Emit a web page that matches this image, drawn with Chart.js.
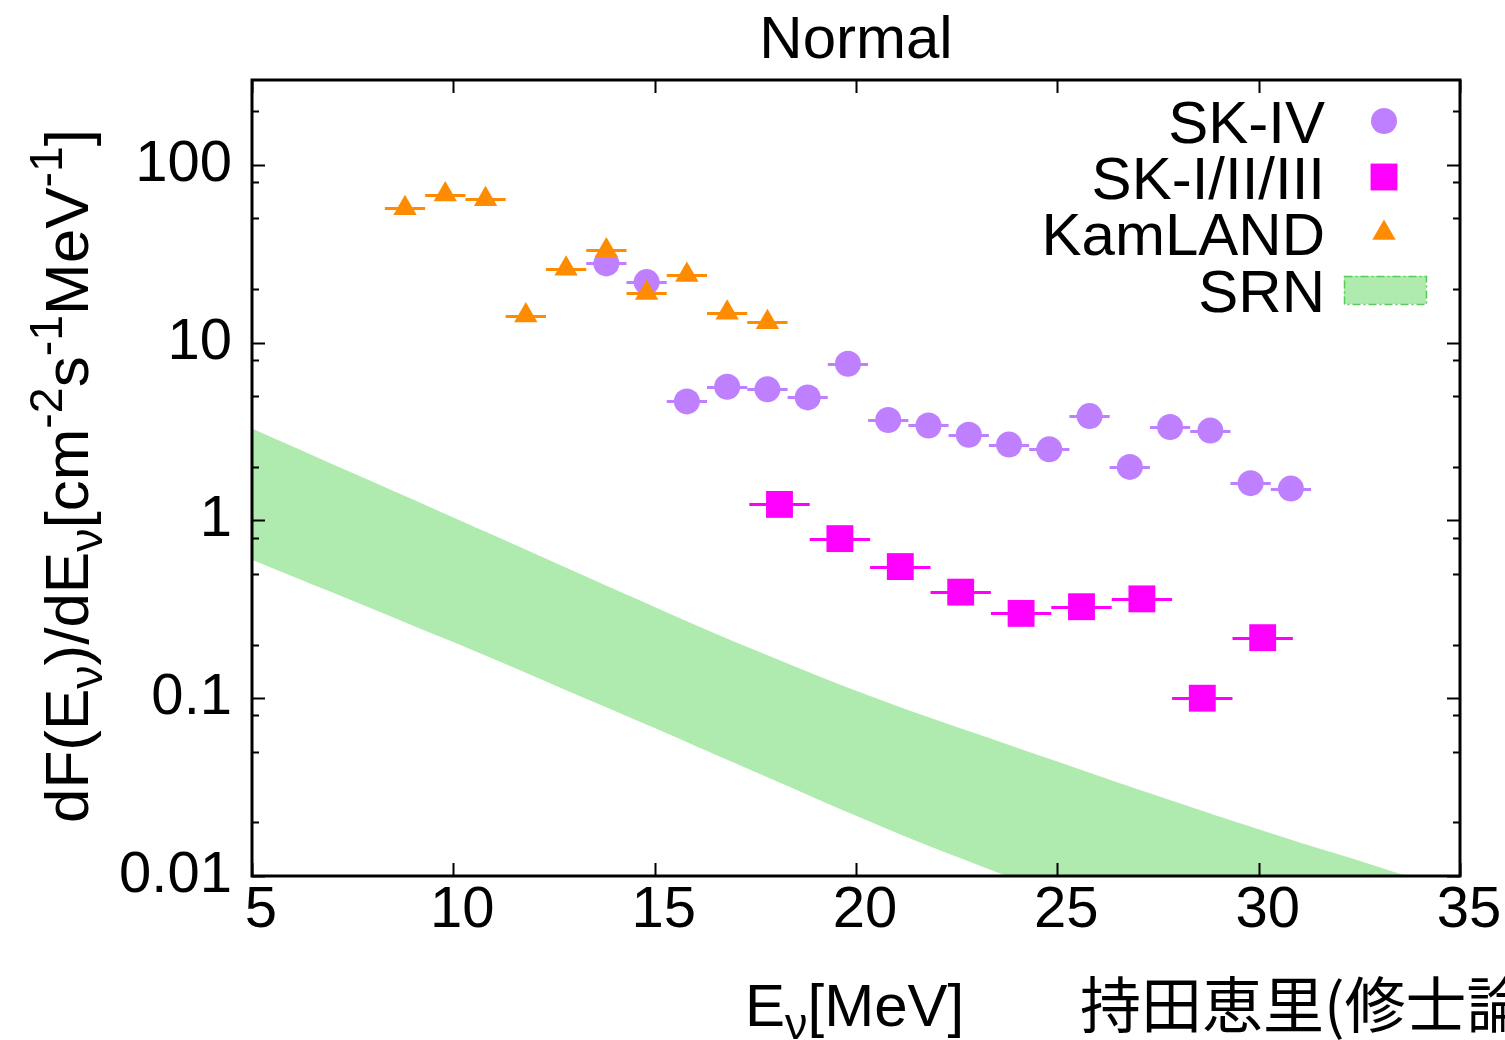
<!DOCTYPE html>
<html>
<head>
<meta charset="utf-8">
<title>Normal</title>
<script src="https://cdn.jsdelivr.net/npm/chart.js@4.4.1/dist/chart.umd.min.js"></script>
<style>
  html, body { margin: 0; padding: 0; background: #fff; overflow: hidden; }
  canvas { display: block; }
</style>
</head>
<body>
<canvas id="myChart" width="1505" height="1040"></canvas>
<script>
// values (E in MeV, flux in cm^-2 s^-1 MeV^-1)
const kamlandE = [8.8, 9.8, 10.8, 11.8, 12.8, 13.8, 14.8, 15.8, 16.8, 17.8];
const kamlandFlux = [57, 68, 64, 14.2, 26, 33, 19, 24, 14.7, 13];

const skivE = [13.8, 14.8, 15.8, 16.8, 17.8, 18.8, 19.8, 20.8, 21.8, 22.8, 23.8, 24.8, 25.8, 26.8, 27.8, 28.8, 29.8, 30.8];
const skivFlux = [27.9, 21.9, 4.67, 5.65, 5.46, 4.92, 7.61, 3.67, 3.42, 3.03, 2.67, 2.51, 3.86, 2.0, 3.35, 3.2, 1.62, 1.51];

const sk123E = [18.1, 19.6, 21.1, 22.6, 24.1, 25.6, 27.1, 28.6, 30.1];
const sk123Flux = [1.23, 0.79, 0.55, 0.395, 0.30, 0.327, 0.362, 0.10, 0.219];

const srnE = [5, 6, 7, 8, 9, 10, 11, 12, 13, 14, 15, 16, 17, 18, 19, 20, 21, 22, 23, 24, 25, 26, 27, 28, 29, 30, 31, 32, 33, 34, 35];
const srnHigh = [3.29, 2.61, 2.07, 1.65, 1.31, 1.04, 0.824, 0.653, 0.518, 0.410, 0.326, 0.259, 0.207, 0.167, 0.135, 0.110, 0.0908, 0.0755, 0.0631, 0.0527, 0.0441, 0.0368, 0.0308, 0.0258, 0.0217, 0.0183, 0.0155, 0.0132, 0.0112, 0.0095, 0.0081];
const srnLow = [0.600, 0.485, 0.393, 0.318, 0.256, 0.207, 0.166, 0.133, 0.106, 0.0851, 0.0679, 0.0541, 0.0431, 0.0343, 0.0273, 0.0218, 0.0175, 0.0142, 0.0116, 0.0095, 0.0079, 0.0066, 0.0055, 0.0046, 0.0039, 0.0033, 0.0028, 0.0024, 0.0020, 0.0017, 0.0015];

// half widths of the energy bins
const kamlandErr = 0.5;
const skivErr = 0.5;
const sk123Err = 0.75;

const yMajor = [0.01, 0.1, 1, 10, 100];
const yTickLabels = ['0.01', '0.1', '1', '10', '100'];
const yTickValues = [0.01, 0.02, 0.05, 0.08, 0.1, 0.2, 0.5, 0.8, 1, 2, 5, 8, 10, 20, 50, 80, 100, 200];

const FONT = '"Liberation Sans", Arial, sans-serif';
const SKIV_COLOR = '#bf80ff';
const SK123_COLOR = '#ff00ff';
const KAM_COLOR = '#ff8c00';
const SRN_COLOR = '#afebaf';

function pts(xs, ys) {
    return xs.map((x, i) => ({ x: x, y: ys[i] }));
}

// horizontal bars showing the bin width of each point
const errorBars = {
    id: 'errorBars',
    beforeDatasetsDraw(chart) {
        const ctx = chart.ctx;
        const xs = chart.scales.x, ys = chart.scales.y;
        ctx.save();
        chart.data.datasets.forEach(ds => {
            if (!ds.xErr) return;
            ctx.strokeStyle = ds.borderColor;
            ctx.lineWidth = 3;
            ds.data.forEach(p => {
                const y = Math.round(ys.getPixelForValue(p.y)) + 0.5;
                ctx.beginPath();
                ctx.moveTo(xs.getPixelForValue(p.x - ds.xErr), y);
                ctx.lineTo(xs.getPixelForValue(p.x + ds.xErr), y);
                ctx.stroke();
            });
        });
        ctx.restore();
    }
};

// gnuplot style box with inward ticks on all sides
const frame = {
    id: 'frame',
    afterDraw(chart) {
        const ctx = chart.ctx;
        const a = chart.chartArea;
        const xs = chart.scales.x, ys = chart.scales.y;
        ctx.save();
        ctx.strokeStyle = '#000';
        ctx.lineWidth = 2;
        ctx.beginPath();
        xs.ticks.forEach(t => {
            const px = Math.round(xs.getPixelForValue(t.value)) + 0.5;
            ctx.moveTo(px, a.bottom); ctx.lineTo(px, a.bottom - 13);
            ctx.moveTo(px, a.top); ctx.lineTo(px, a.top + 13);
        });
        ys.ticks.forEach(t => {
            const py = Math.round(ys.getPixelForValue(t.value)) + 0.5;
            const len = t.label ? 13 : 7;
            ctx.moveTo(a.left, py); ctx.lineTo(a.left + len, py);
            ctx.moveTo(a.right, py); ctx.lineTo(a.right - len, py);
        });
        ctx.stroke();
        ctx.lineWidth = 3;
        ctx.strokeRect(a.left, a.top, a.right - a.left, a.bottom - a.top);
        ctx.restore();
    }
};

function richWidth(ctx, parts, size) {
    let w = 0;
    parts.forEach(p => {
        ctx.font = (p.s ? size * 0.75 : size) + 'px ' + FONT;
        w += ctx.measureText(p.t).width;
    });
    return w;
}

function drawRich(ctx, parts, x, y, size) {
    let cx = x;
    parts.forEach(p => {
        ctx.font = (p.s ? size * 0.75 : size) + 'px ' + FONT;
        let dy = 0;
        if (p.s === 'sub') dy = size * 0.22;
        if (p.s === 'sup') dy = -size * 0.42;
        ctx.fillText(p.t, cx, y + dy);
        cx += ctx.measureText(p.t).width;
    });
}

const texts = {
    id: 'texts',
    afterDraw(chart) {
        const ctx = chart.ctx;
        const a = chart.chartArea;
        ctx.save();
        ctx.fillStyle = '#000';
        ctx.textBaseline = 'alphabetic';

        // title
        ctx.font = '60px ' + FONT;
        ctx.textAlign = 'center';
        ctx.fillText('Normal', (a.left + a.right) / 2, 58);

        ctx.textAlign = 'left';
        // y axis title
        const yParts = [
            { t: 'dF(E' }, { t: 'ν', s: 'sub' }, { t: ')/dE' }, { t: 'ν', s: 'sub' },
            { t: '[cm' }, { t: '-2', s: 'sup' }, { t: 's' }, { t: '-1', s: 'sup' },
            { t: 'MeV' }, { t: '-1', s: 'sup' }, { t: ']' }
        ];
        const yw = richWidth(ctx, yParts, 62);
        ctx.save();
        ctx.translate(88, 476 + yw / 2);
        ctx.rotate(-Math.PI / 2);
        drawRich(ctx, yParts, 0, 0, 62);
        ctx.restore();

        // x axis title
        const xParts = [{ t: 'E' }, { t: 'ν', s: 'sub' }, { t: '[MeV]' }];
        drawRich(ctx, xParts, 745, 1026, 60);

        // note at the bottom right
        ctx.font = '61px "Noto Sans CJK JP", sans-serif';
        ctx.fillText('持田恵里(修士論文)', 1080, 1028);

        // legend
        const rows = [
            { ds: chart.data.datasets[2], base: 143, my: 121 },
            { ds: chart.data.datasets[3], base: 199, my: 177 },
            { ds: chart.data.datasets[4], base: 255, my: 233 },
            { ds: chart.data.datasets[1], base: 312, my: 290 }
        ];
        ctx.font = '60px ' + FONT;
        ctx.textAlign = 'right';
        rows.forEach(r => {
            ctx.fillStyle = '#000';
            ctx.fillText(r.ds.label, 1325, r.base);
            if (r.ds.pointStyle) {
                ctx.fillStyle = r.ds.pointBackgroundColor;
                ctx.strokeStyle = r.ds.pointBackgroundColor;
                Chart.helpers.drawPoint(ctx, {
                    pointStyle: r.ds.pointStyle, radius: r.ds.pointRadius,
                    rotation: 0, borderWidth: 0
                }, 1384, r.my);
            } else {
                ctx.fillStyle = SRN_COLOR;
                ctx.fillRect(1344, 276, 82, 28);
                ctx.strokeStyle = '#55cc55';
                ctx.lineWidth = 1.5;
                ctx.setLineDash([8, 3, 2, 3]);
                ctx.strokeRect(1344.5, 276.5, 82, 28);
                ctx.setLineDash([]);
            }
        });
        ctx.restore();
    }
};

function setGraph() {
    new Chart('myChart', {
        type: 'line',
        data: {
            datasets: [
                {
                    label: 'SRN lower', data: pts(srnE, srnLow),
                    borderColor: 'rgba(0,0,0,0)', pointRadius: 0, fill: false,
                    cubicInterpolationMode: 'monotone', order: 5
                },
                {
                    label: 'SRN', data: pts(srnE, srnHigh),
                    borderColor: 'rgba(0,0,0,0)', backgroundColor: SRN_COLOR,
                    pointRadius: 0, fill: '-1',
                    cubicInterpolationMode: 'monotone', order: 4
                },
                {
                    label: 'SK-IV', data: pts(skivE, skivFlux), xErr: skivErr,
                    showLine: false, borderColor: SKIV_COLOR, pointStyle: 'circle',
                    pointRadius: 13, pointHoverRadius: 13, pointBorderWidth: 0,
                    pointBackgroundColor: SKIV_COLOR, order: 3
                },
                {
                    label: 'SK-I/II/III', data: pts(sk123E, sk123Flux), xErr: sk123Err,
                    showLine: false, borderColor: SK123_COLOR, pointStyle: 'rect',
                    pointRadius: 19, pointHoverRadius: 19, pointBorderWidth: 0,
                    pointBackgroundColor: SK123_COLOR, order: 2
                },
                {
                    label: 'KamLAND', data: pts(kamlandE, kamlandFlux), xErr: kamlandErr,
                    showLine: false, borderColor: KAM_COLOR, pointStyle: 'triangle',
                    pointRadius: 13.5, pointHoverRadius: 13.5, pointBorderWidth: 0,
                    pointBackgroundColor: KAM_COLOR, order: 1
                }
            ]
        },
        options: {
            responsive: false,
            animation: false,
            events: [],
            layout: { padding: { top: 80, right: 45, bottom: 0, left: 0 } },
            plugins: {
                legend: { display: false },
                tooltip: { enabled: false }
            },
            scales: {
                x: {
                    type: 'linear', min: 5, max: 35,
                    grid: { display: false, drawTicks: false },
                    border: { display: false },
                    ticks: {
                        stepSize: 5, autoSkip: false, maxRotation: 0,
                        padding: 0, labelOffset: 9, color: '#000',
                        font: { family: FONT, size: 58 }
                    },
                    afterFit(s) { s.height = 164; }
                },
                y: {
                    type: 'logarithmic', min: 0.01, max: 300,
                    grid: { display: false, drawTicks: false },
                    border: { display: false },
                    afterBuildTicks(s) { s.ticks = yTickValues.map(v => ({ value: v })); },
                    ticks: {
                        autoSkip: false, padding: 20, color: '#000',
                        font: { family: FONT, size: 58 },
                        callback(value) {
                            const i = yMajor.indexOf(value);
                            return i >= 0 ? yTickLabels[i] : '';
                        }
                    },
                    afterFit(s) { s.width = 252; }
                }
            }
        },
        plugins: [errorBars, frame, texts]
    });
}

window.onload = () => {
    setGraph();
};
</script>
</body>
</html>
